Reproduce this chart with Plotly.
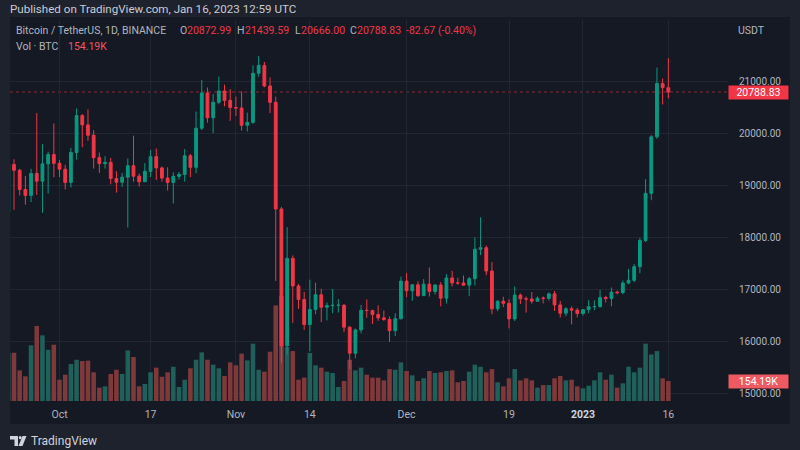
import plotly.graph_objects as go
import pandas as pd

# ---------------- data (BTC/USDT 1D, Binance) ----------------
start_date = "2022-09-22"
end_date = "2023-01-16"

opens = [18476, 19401, 19289, 18920, 18807, 19227, 19079, 19412, 19591,
         19422, 19310, 19056, 19629, 20337, 20158, 19960, 19530, 19417, 19439,
         19131, 19060, 19155, 19375, 19176, 19068, 19268, 19550, 19334, 19139,
         19053, 19172, 19208, 19567, 19345, 20095, 20771, 20295, 20591, 20809, 20627,
         20491, 20483, 20151, 20207, 21148, 21299, 20905, 20591, 18547, 15922,
         17601, 17070, 16812, 16330, 16619, 16900, 16663, 16692, 16700, 16700,
         16280, 15781, 16227, 16603, 16599, 16522, 16458, 16428, 16212, 16442,
         17163, 16977, 17092, 16885, 17105, 16966, 17088, 16836, 17224, 17128,
         17127, 17085, 17209, 17774, 17803, 17356, 16632, 16776, 16738, 16438,
         16895, 16824, 16821, 16778, 16836, 16832, 16919, 16707, 16547, 16633, 16607,
         16542, 16616, 16672, 16675, 16850, 16831, 16950, 16943, 17127, 17178,
         17440, 17943, 18846, 19930, 20952, 20872.99]
highs = [19500, 19500, 19316, 19180, 19316, 20385, 19790, 19645, 20185,
         19484, 19395, 19719, 20475, 20365, 20456, 20059, 19627, 19558, 19525,
         19268, 19238, 19513, 19951, 19227, 19424, 19676, 19706, 19360, 19346,
         19250, 19257, 19695, 19601, 20415, 21020, 20877, 20750, 21085, 20931, 20845,
         20700, 20800, 20393, 21302, 21480, 21365, 21069, 20700, 18587, 18199,
         17655, 17109, 16955, 17190, 17134, 17015, 16753, 17011, 16820, 16725,
         16300, 16253, 16706, 16812, 16613, 16701, 16600, 16483, 16548, 17249,
         17320, 17105, 17158, 17202, 17425, 17107, 17142, 17299, 17360, 17227,
         17270, 17242, 18000, 18387, 17846, 17530, 16800, 16863, 16816, 17061,
         16925, 16868, 16955, 16869, 16868, 16944, 16972, 16785, 16664, 16677, 16644,
         16628, 16799, 16794, 16991, 16879, 17041, 16981, 17176, 17398, 17490,
         17992, 19117, 19964, 21258, 21050, 21439.59]
lows = [18356, 18531, 18805, 18629, 18680, 18816, 18471, 18843, 19155,
        19159, 18920, 18959, 19490, 19730, 19854, 19320, 19237, 19320, 19020,
        18860, 18965, 18190, 19070, 18975, 19063, 19160, 19100, 19070, 18900,
        18650, 19111, 19070, 19157, 19232, 20060, 20200, 20000, 20554, 20515, 20237,
        20330, 20048, 20031, 20180, 21080, 20880, 20384, 17166, 15588, 15754,
        16361, 16631, 16229, 15815, 16527, 16378, 16410, 16546, 16560, 16183,
        15476, 15683, 16160, 16458, 16342, 16400, 16400, 15995, 16109, 16428,
        16855, 16787, 16859, 16878, 16867, 16906, 16678, 16733, 17060, 17091,
        17071, 16873, 17080, 17660, 17275, 16527, 16585, 16663, 16256, 16398,
        16723, 16559, 16731, 16773, 16735, 16791, 16592, 16465, 16488, 16333, 16470,
        16500, 16548, 16605, 16652, 16753, 16679, 16908, 16911, 17100, 17142,
        17315, 17910, 18714, 19889, 20551, 20666.00]
closes = [19401, 19289, 18920, 18807, 19227, 19079, 19412, 19591, 19422,
          19310, 19056, 19629, 20337, 20158, 19960, 19530, 19417, 19439, 19131,
          19060, 19155, 19375, 19176, 19068, 19268, 19550, 19334, 19139, 19053,
          19172, 19208, 19567, 19345, 20095, 20771, 20295, 20591, 20809, 20627, 20491,
          20483, 20151, 20207, 21148, 21299, 20905, 20591, 18547, 15922, 17601,
          17070, 16812, 16330, 16619, 16900, 16663, 16692, 16700, 16700.5, 16280,
          15781, 16227, 16603, 16599, 16522, 16458, 16428, 16212, 16442, 17163,
          16977, 17092, 16885, 17105, 16966, 17088, 16836, 17224, 17128, 17127,
          17085, 17209, 17774, 17803, 17356, 16632, 16776, 16738, 16438, 16895,
          16824, 16821, 16778, 16836, 16832, 16919, 16707, 16547, 16633, 16607, 16542,
          16616, 16672, 16675, 16850, 16831, 16950, 16943, 17127, 17178, 17440,
          17943, 18846, 19930, 20954, 20871, 20788.83]
# volume in thousands of BTC
volumes = [372, 372, 236, 190, 429, 578, 506, 395, 434,
           164, 203, 285, 318, 308, 311, 221, 103, 113, 208,
           241, 208, 390, 339, 113, 131, 221, 257, 187, 221,
           264, 108, 164, 252, 318, 375, 318, 280, 252, 193, 298,
           275, 365, 313, 442, 241, 226, 380, 737, 810, 416,
           385, 164, 180, 370, 275, 257, 226, 216, 108, 154,
           318, 236, 257, 203, 180, 180, 159, 246, 241, 298,
           231, 198, 154, 175, 231, 216, 221, 231, 236, 144,
           154, 226, 280, 264, 221, 246, 144, 113, 175, 246,
           159, 175, 159, 103, 123, 123, 175, 193, 159, 164, 113,
           98, 118, 159, 221, 164, 203, 103, 136, 264, 221,
           257, 442, 359, 385, 175, 154.19]

tick_dates = ["2022-10-01", "2022-10-17", "2022-11-01", "2022-11-14",
              "2022-12-01", "2022-12-19", "2023-01-01", "2023-01-16"]
tick_labels = ["Oct", "17", "Nov", "14", "Dec", "19",
               "<span style='color:#d1d4dc'><b>2023</b></span>", "16"]
price_ticks = [15000, 16000, 17000, 18000, 19000, 20000, 21000]

dates = pd.date_range(start_date, end_date, freq="D")

# ---------------- style ----------------
W, H = 800, 450
ML, MR, MT, MB = 10, 72, 20, 49
PW, PH = W - ML - MR, H - MT - MB
OUTER = "#1e222d"
PANEL = "#151924"
GRID = "#222632"
GREEN = "#089981"
RED = "#f23645"
VGREEN = "#1f605b"
VRED = "#80393b"
TXT = "#b2b5be"
FONT = "Roboto, Liberation Sans, sans-serif"


def px(xp, yp):
    return (xp - ML) / PW, (H - MB - yp) / PH


vol_colors = [VGREEN if c >= o else VRED for o, c in zip(opens, closes)]

fig = go.Figure()
fig.add_trace(go.Bar(x=dates, y=volumes, marker=dict(color=vol_colors, line=dict(width=0)),
                     yaxis="y", hoverinfo="skip", showlegend=False))
fig.add_trace(go.Candlestick(
    x=dates, open=opens, high=highs, low=lows, close=closes, yaxis="y2",
    increasing=dict(line=dict(color=GREEN, width=1), fillcolor=GREEN),
    decreasing=dict(line=dict(color=RED, width=1), fillcolor=RED),
    whiskerwidth=0, showlegend=False, hoverinfo="skip"))

shapes = []
# chart panel
x0, y0 = px(10, 17)
x1, y1 = px(790, 424)
shapes.append(dict(type="rect", xref="paper", yref="paper", x0=x0, x1=x1, y0=y1, y1=y0,
                   fillcolor=PANEL, line=dict(width=0), layer="below"))
# last price dotted line
shapes.append(dict(type="line", xref="paper", yref="y2", x0=0, x1=1,
                   y0=closes[-1], y1=closes[-1],
                   line=dict(color="rgba(242,54,69,0.55)", width=1, dash="dot"), layer="below"))


# TradingView logo (approximate)
def pth(points):
    s = ""
    for i, (a, b) in enumerate(points):
        xx, yy = px(a, b)
        s += ("M" if i == 0 else "L") + f"{xx:.5f},{yy:.5f} "
    return s + "Z"


shapes.append(dict(type="path", xref="paper", yref="paper",
                   path=pth([(10, 436), (18, 436), (18, 446), (14.5, 446), (14.5, 439.5), (10, 439.5)]),
                   fillcolor="#d1d4dc", line=dict(width=0)))
cx0, cy0 = px(18.8, 436)
cx1, cy1 = px(21.6, 439.3)
shapes.append(dict(type="circle", xref="paper", yref="paper", x0=cx0, x1=cx1, y0=cy1, y1=cy0,
                   fillcolor="#d1d4dc", line=dict(width=0)))
shapes.append(dict(type="path", xref="paper", yref="paper",
                   path=pth([(22.5, 436), (26.5, 436), (22.5, 446), (18.5, 446)]),
                   fillcolor="#d1d4dc", line=dict(width=0)))

annotations = []


def text(xp, yp, s, color=TXT, size=11, anchor="left"):
    xx, yy = px(xp, yp)
    annotations.append(dict(xref="paper", yref="paper", x=xx, y=yy, text=s, showarrow=False,
                            xanchor=anchor, yanchor="middle",
                            font=dict(family=FONT, size=size, color=color)))


LS = 10.5
text(8, 9, "Published on TradingView.com, Jan 16, 2023 12:59 UTC", "#c9ccd4", 11.6)
text(14, 31, "Bitcoin / TetherUS, 1D, BINANCE", TXT, LS)
text(178, 31, "O", TXT, LS)
text(185, 31, "20872.99", RED, LS)
text(235, 31, "H", TXT, LS)
text(243, 31, "21439.59", RED, LS)
text(293, 31, "L", TXT, LS)
text(299, 31, "20666.00", RED, LS)
text(348, 31, "C", TXT, LS)
text(355, 31, "20788.83", RED, LS)
text(404, 31, "-82.67 (-0.40%)", RED, LS)
text(14, 47, "Vol · BTC", TXT, LS)
text(66, 47, "154.19K", "#f7525f", LS)
text(736, 30, "USDT", TXT, 10.5)
text(29, 441, "TradingView", "#d1d4dc", 12)

# price scale labels
annotations.append(dict(xref="paper", yref="y2", x=1.0, y=closes[-1], text=f"{closes[-1]:.2f}",
                        showarrow=False, xanchor="left", yanchor="middle", bgcolor=RED,
                        width=57, height=11, borderpad=1, align="center", valign="middle",
                        font=dict(family=FONT, size=10.5, color="#ffffff")))
annotations.append(dict(xref="paper", yref="y", x=1.0, y=volumes[-1], text=f"{volumes[-1]:.2f}K",
                        showarrow=False, xanchor="left", yanchor="middle", bgcolor="#ef5a62",
                        width=57, height=11, borderpad=1, align="center", valign="middle",
                        font=dict(family=FONT, size=10.5, color="#ffffff")))

fig.update_layout(
    width=W, height=H,
    margin=dict(l=ML, r=MR, t=MT, b=MB),
    paper_bgcolor=OUTER, plot_bgcolor=PANEL,
    showlegend=False, bargap=0.2,
    xaxis=dict(type="date", range=["2022-09-22 07:08", "2023-01-26 11:40"],
               rangeslider=dict(visible=False),
               tickvals=tick_dates, ticktext=tick_labels, ticks="",
               showgrid=True, gridcolor=GRID, gridwidth=1, zeroline=False, showline=False,
               tickfont=dict(family=FONT, size=10.5, color=TXT), ticklabelstandoff=5),
    yaxis=dict(range=[0, 2937], visible=False, showgrid=False, fixedrange=True),
    yaxis2=dict(overlaying="y", side="right", range=[14864, 22170],
                tickvals=price_ticks, ticktext=[f"{v:.2f}" for v in price_ticks],
                showgrid=True, gridcolor=GRID, gridwidth=1, zeroline=False, showline=False,
                ticks="", ticklabelstandoff=10,
                tickfont=dict(family=FONT, size=10, color=TXT)),
    shapes=shapes, annotations=annotations,
)

fig.write_html("out.html")
